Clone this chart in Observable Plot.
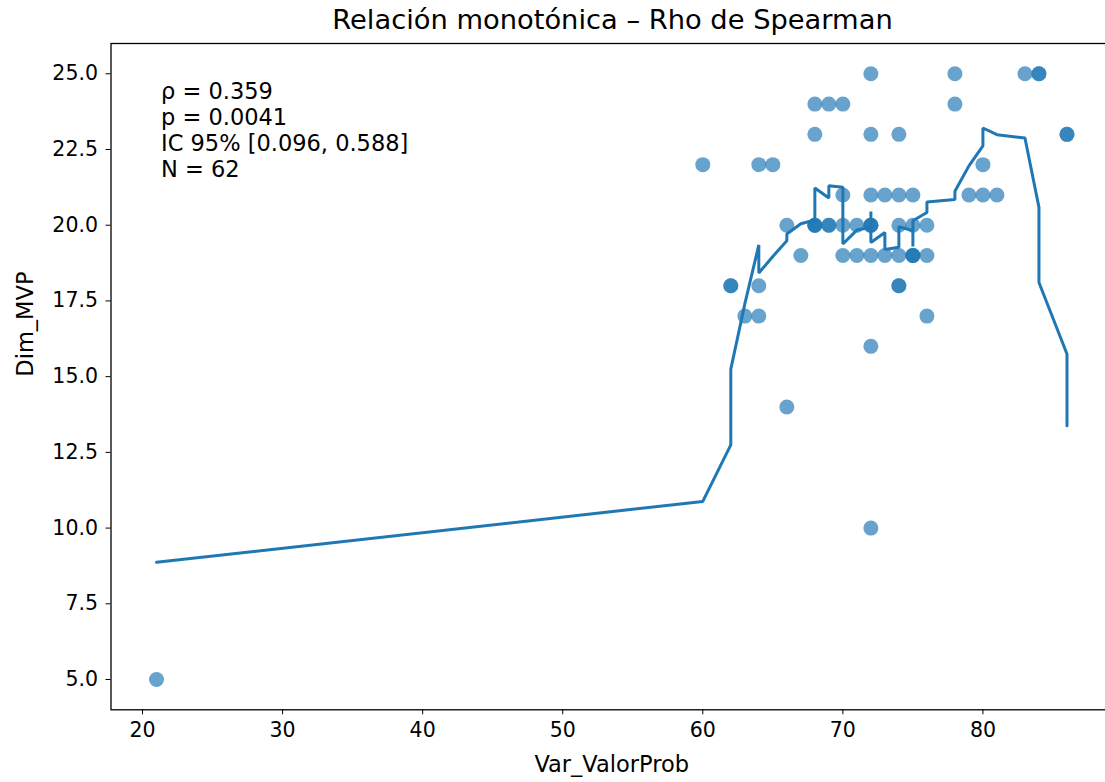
<!DOCTYPE html>
<html>
<head>
<meta charset="utf-8">
<script src="https://cdn.jsdelivr.net/npm/d3@7"></script>
<script src="https://cdn.jsdelivr.net/npm/@observablehq/plot@0.6"></script>
<style>
  html, body { margin: 0; padding: 0; background: #fff; overflow: hidden; }
  #title { height: 38px; line-height: 40px; font-family: "DejaVu Sans", sans-serif; font-size: 27.3px; color: #000;
           box-sizing: border-box; width: 1105px; padding-left: 120px; text-align: center; white-space: nowrap; }
</style>
</head>
<body>
<div id="title"></div>
<div id="chart"></div>
<script>
// ---- Data ----
const titleText = "Relación monotónica – Rho de Spearman";
const xLabel = "Var_ValorProb";
const yLabel = "Dim_MVP";
const statsLines = ["ρ = 0.359", "p = 0.0041", "IC 95% [0.096, 0.588]", "N = 62"];

const varValorProb = [
  72, 78, 83, 84, 84,
  68, 69, 70, 78,
  68, 72, 74, 86, 86,
  60, 64, 65, 80,
  70, 72, 73, 74, 75, 79, 80, 81,
  66, 68, 68, 68, 69, 69, 70, 71, 72, 72, 72, 74, 75, 76,
  67, 70, 71, 72, 73, 74, 75, 75, 75, 76,
  62, 62, 64, 74, 74,
  63, 64, 76,
  72,
  66,
  72,
  21
];
const dimMVP = [
  25, 25, 25, 25, 25,
  24, 24, 24, 24,
  23, 23, 23, 23, 23,
  22, 22, 22, 22,
  21, 21, 21, 21, 21, 21, 21, 21,
  20, 20, 20, 20, 20, 20, 20, 20, 20, 20, 20, 20, 20, 20,
  19, 19, 19, 19, 19, 19, 19, 19, 19, 19,
  18, 18, 18, 18, 18,
  17, 17, 17,
  16,
  14,
  10,
  5
];

// smoothed (LOWESS-like) curve, in drawing order
const curveX = [21, 60, 62, 62, 63, 64, 64, 65, 66, 66, 67, 68, 68, 69, 69, 70, 70, 71, 72, 72, 72,
                73, 73, 74, 74, 75, 75, 75, 76, 76, 78, 78, 79, 80, 80, 81, 83, 84, 84, 86, 86];
const curveY = [8.87, 10.88, 12.75, 15.25, 17.4, 19.35, 18.42, 18.97, 19.49, 19.71, 20.05, 20.17, 21.23,
                20.9, 21.3, 21.25, 19.38, 19.84, 19.93, 20.45, 19.43, 19.76, 19.2, 19.27, 19.95, 19.82,
                19.3, 20.15, 20.42, 20.77, 20.85, 21.12, 21.96, 22.62, 23.21, 22.99, 22.88, 20.59, 18.11,
                15.75, 13.38];

const xTicks = [20, 30, 40, 50, 60, 70, 80];
const yTicks = [5, 7.5, 10, 12.5, 15, 17.5, 20, 22.5, 25];

// ---- Build ----
const points = varValorProb.map((x, i) => ({x, y: dimMVP[i]}));
const curve = curveX.map((x, i) => ({x, y: curveY[i]}));
const blue = "#1f77b4";

document.getElementById("title").textContent = titleText;

const chart = Plot.plot({
  width: 1105,
  height: 744,
  marginLeft: 110.5,
  marginRight: -7,
  marginTop: 5,
  marginBottom: 72.7,
  style: {fontFamily: "DejaVu Sans, sans-serif", fontSize: "20px", color: "#000", background: "#fff", overflow: "hidden"},
  x: {domain: [17.75, 89.25]},
  y: {domain: [4, 26]},
  marks: [
    Plot.dot(points, {x: "x", y: "y", r: 7.5, fill: blue, fillOpacity: 0.68, stroke: "none"}),
    Plot.line(curve, {x: "x", y: "y", stroke: blue, strokeWidth: 3, curve: "linear", strokeLinejoin: "miter"}),
    Plot.frame({stroke: "#000", strokeWidth: 1.3}),
    Plot.axisX({ticks: xTicks, tickFormat: d3.format("d"), tickSize: 5, tickPadding: 8, label: null, fontSize: 20.5, stroke: "#000"}),
    Plot.axisY({ticks: yTicks, tickFormat: d3.format(".1f"), tickSize: 5, tickPadding: 8, label: null, fontSize: 20.5, stroke: "#000"}),
    Plot.text([xLabel], {frameAnchor: "bottom", dy: 62, text: d => d, fontSize: 22.5, fill: "#000"}),
    Plot.text([yLabel], {frameAnchor: "left", dx: -85, rotate: -90, text: d => d, fontSize: 22.5, fill: "#000"}),
    Plot.text([statsLines.join("\n")], {frameAnchor: "top-left", dx: 50, dy: 36.5, text: d => d, textAnchor: "start",
      lineAnchor: "top", lineHeight: 1.16, fontSize: 22.5, fill: "#000"})
  ]
});
document.getElementById("chart").appendChild(chart);
</script>
</body>
</html>
